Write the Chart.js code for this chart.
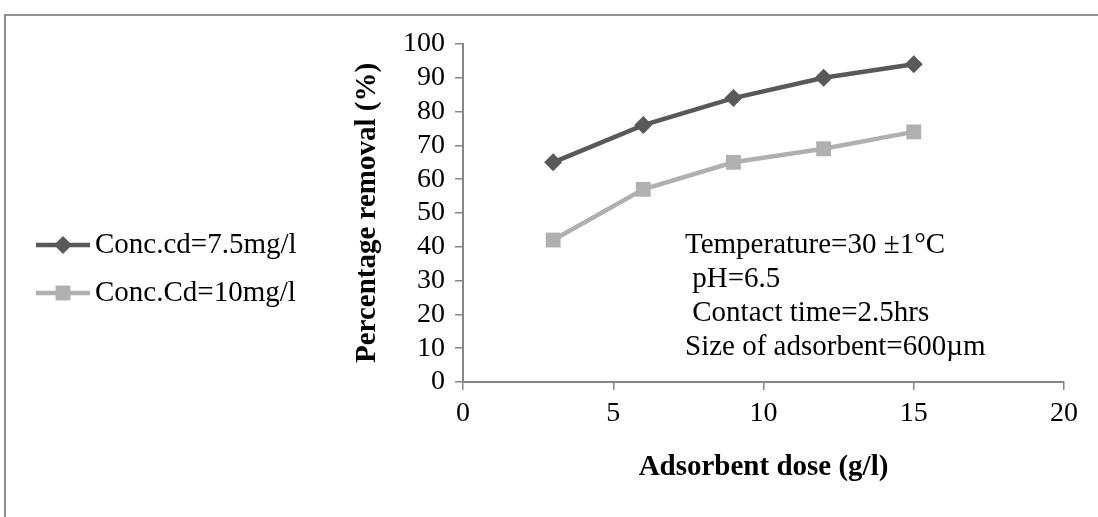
<!DOCTYPE html>
<html>
<head>
<meta charset="utf-8">
<script src="https://cdn.jsdelivr.net/npm/chart.js@4.4.1/dist/chart.umd.min.js"></script>
<style>
  html, body { margin: 0; padding: 0; background: #fff; }
  #wrap { width: 1098px; height: 517px; position: relative; }
</style>
</head>
<body>
<div id="wrap"><canvas id="chart"></canvas></div>
<script>
// data
const doses = [3, 6, 9, 12, 15];
const removal75 = [65, 76, 84, 90, 94];
const removal10 = [42, 57, 65, 69, 74];
const seriesNames = ["Conc.cd=7.5mg/l", "Conc.Cd=10mg/l"];
const noteLines = ["Temperature=30 \u00b11\u00b0C", " pH=6.5", " Contact time=2.5hrs", "Size of adsorbent=600\u00b5m"];

const SERIF = "'Liberation Serif', 'Times New Roman', serif";
const AXIS_GRAY = "#868686";
const DARK = "#595959";
const LIGHT = "#b0b0b0";

const toPoints = vals => doses.map((x, i) => ({ x, y: vals[i] }));

// outer frame, legend and the text box
const decorations = {
  id: "decorations",
  afterDraw(chart) {
    const ctx = chart.ctx;
    const area = chart.chartArea;
    ctx.save();

    // frame (only top and left edges are visible in the figure)
    ctx.strokeStyle = "#909090";
    ctx.lineWidth = 2;
    ctx.beginPath();
    ctx.moveTo(5, 517);
    ctx.lineTo(5, 15);
    ctx.lineTo(1098, 15);
    ctx.stroke();

    // legend, using the dataset styles
    chart.data.datasets.forEach((ds, i) => {
      const y = 245 + i * 48;
      ctx.strokeStyle = ds.borderColor;
      ctx.lineWidth = ds.borderWidth;
      ctx.beginPath();
      ctx.moveTo(36, y);
      ctx.lineTo(90, y);
      ctx.stroke();
      ctx.fillStyle = ds.backgroundColor;
      Chart.helpers.drawPoint(ctx, { pointStyle: ds.pointStyle, radius: ds.pointRadius, borderWidth: 0 }, 63, y);
      ctx.fillStyle = "#000";
      ctx.font = "29px " + SERIF;
      ctx.textBaseline = "middle";
      ctx.textAlign = "left";
      ctx.fillText(ds.label, 95, y);
    });

    // conditions text box
    ctx.fillStyle = "#000";
    ctx.font = "29px " + SERIF;
    ctx.textBaseline = "middle";
    ctx.textAlign = "left";
    noteLines.forEach((line, i) => {
      ctx.fillText(line, area.left + 222, 245 + i * 34);
    });

    ctx.restore();
  }
};

new Chart(document.getElementById("chart"), {
  type: "scatter",
  data: {
    datasets: [
      {
        label: seriesNames[0],
        data: toPoints(removal75),
        showLine: true,
        borderColor: DARK,
        backgroundColor: DARK,
        borderWidth: 4.5,
        pointStyle: "rectRot",
        pointRadius: 9,
        pointHoverRadius: 9,
        pointBorderWidth: 0
      },
      {
        label: seriesNames[1],
        data: toPoints(removal10),
        showLine: true,
        borderColor: LIGHT,
        backgroundColor: LIGHT,
        borderWidth: 4.5,
        pointStyle: "rect",
        pointRadius: 10.5,
        pointHoverRadius: 10.5,
        pointBorderWidth: 0
      }
    ]
  },
  options: {
    responsive: true,
    maintainAspectRatio: false,
    animation: false,
    layout: { padding: { left: 343, right: 34, top: 44, bottom: 32 } },
    plugins: {
      legend: { display: false },
      tooltip: { enabled: false }
    },
    scales: {
      x: {
        type: "linear",
        min: 0,
        max: 20,
        ticks: { stepSize: 5, autoSkip: false, color: "#000", padding: 7, font: { family: SERIF, size: 28 } },
        grid: { drawOnChartArea: false, tickLength: 8, color: AXIS_GRAY, lineWidth: 1.5 },
        border: { color: AXIS_GRAY, width: 2 },
        title: {
          display: true,
          text: "Adsorbent dose (g/l)",
          color: "#000",
          padding: { top: 0, bottom: 0 },
          font: { family: SERIF, size: 29, weight: "bold" }
        },
        afterFit: s => { s.height = 103; }
      },
      y: {
        min: 0,
        max: 100,
        ticks: { stepSize: 10, autoSkip: false, color: "#000", padding: 10, font: { family: SERIF, size: 28 } },
        grid: { drawOnChartArea: false, tickLength: 8, color: AXIS_GRAY, lineWidth: 1.5 },
        border: { color: AXIS_GRAY, width: 2 },
        title: {
          display: true,
          text: "Percentage removal (%)",
          color: "#000",
          padding: { top: 7, bottom: 0 },
          font: { family: SERIF, size: 29, weight: "bold" }
        },
        afterFit: s => { s.width = 120; }
      }
    }
  },
  plugins: [decorations]
});
</script>
</body>
</html>
